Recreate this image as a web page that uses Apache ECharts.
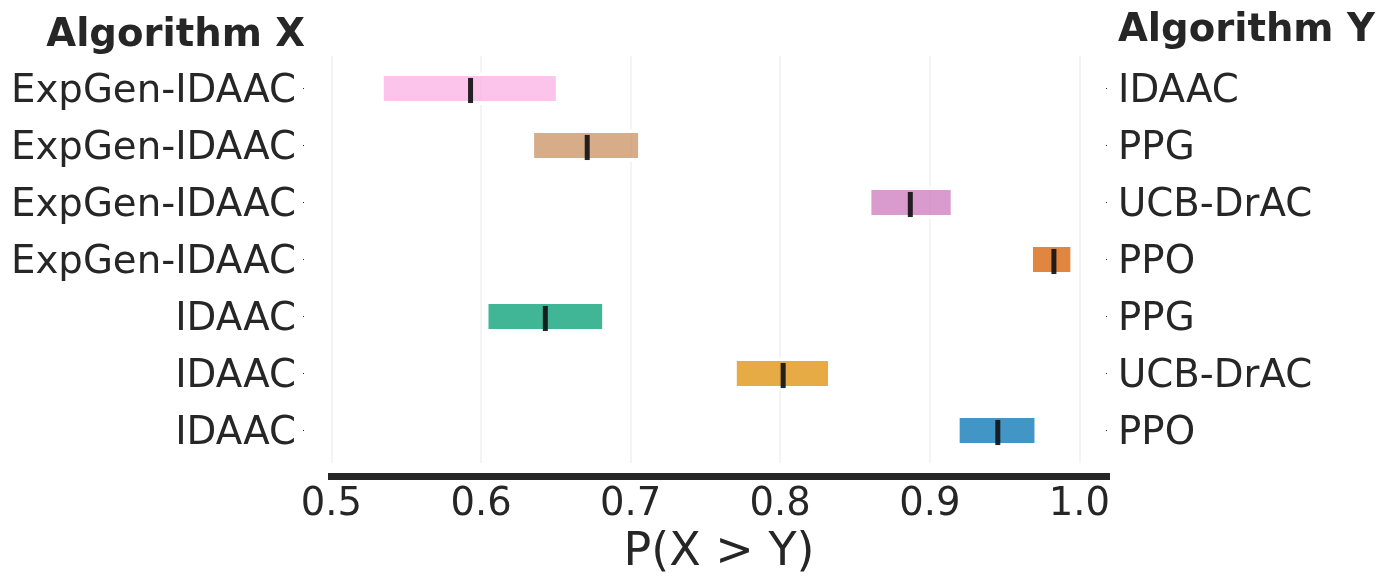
<!DOCTYPE html>
<html>
<head>
<meta charset="utf-8">
<script src="https://cdn.jsdelivr.net/npm/echarts@6/dist/echarts.min.js"></script>
<style>
  html, body { margin: 0; padding: 0; background: #fff; }
  #chart { width: 1389px; height: 582px; }
</style>
</head>
<body>
<div id="chart"></div>
<script>
// pairs compared, top to bottom
const algoX = ['ExpGen-IDAAC', 'ExpGen-IDAAC', 'ExpGen-IDAAC', 'ExpGen-IDAAC', 'IDAAC', 'IDAAC', 'IDAAC'];
const algoY = ['IDAAC', 'PPG', 'UCB-DrAC', 'PPO', 'PPG', 'UCB-DrAC', 'PPO'];

// P(X > Y): interval low / high and point estimate
const lowVals = [0.535, 0.6355, 0.861, 0.969, 0.605, 0.771, 0.920];
const highVals = [0.650, 0.705, 0.914, 0.994, 0.681, 0.832, 0.970];
const medianVals = [0.593, 0.671, 0.887, 0.983, 0.643, 0.802, 0.9455];

const xTicks = [0.5, 0.6, 0.7, 0.8, 0.9, 1.0];

// seaborn colorblind, drawn with alpha .75
const barColors = ['#fbafe4', '#ca9161', '#cc78bc', '#d55e00', '#029e73', '#de8f05', '#0173b2'];

const textColor = '#262626';
const fontFam = 'DejaVu Sans';

let rows = lowVals.map((lo, i) => [i, lo, highVals[i], medianVals[i]]);
let rowIdx = algoX.map((n, i) => i);

// row labels pushed down a few px so they sit on the bar centre
const rowLabelRich = {
  a: { fontSize: 38.7, color: textColor, fontFamily: fontFam, padding: [6, 0, 0, 0] }
};

function renderItem(params, api) {
  let row = api.value(0);
  let start = api.coord([api.value(1), row]);
  let end = api.coord([api.value(2), row]);
  let mid = api.coord([api.value(3), row]);
  let h = api.size([0, 1])[1] * 0.44;
  let top = start[1] - h / 2;
  let w = end[0] - start[0];
  return {
    type: 'group',
    children: [
      // white halo above / below the bar
      { type: 'rect', shape: { x: start[0], y: top - 3.5, width: w, height: 3.5 }, style: { fill: '#fff' } },
      { type: 'rect', shape: { x: start[0], y: top + h, width: w, height: 4 }, style: { fill: '#fff' } },
      { type: 'rect', shape: { x: start[0], y: top, width: w, height: h }, style: { fill: barColors[row], opacity: 0.75 } },
      { type: 'rect', shape: { x: mid[0] - 2.5, y: top + 2, width: 5, height: h }, style: { fill: 'rgba(20,18,20,0.92)' } }
    ]
  };
}

let myChart = echarts.init(document.getElementById('chart'));
let option = {
  animation: false,
  backgroundColor: '#fff',
  textStyle: { fontFamily: fontFam },
  grid: {
    left: 328,
    right: 279,
    top: 56,
    bottom: 119
  },
  xAxis: {
    type: 'value',
    min: 0.4977,
    max: 1.0205,
    offset: 13.5,
    name: 'P(X > Y)',
    nameLocation: 'middle',
    nameGap: 54,
    nameTextStyle: { fontSize: 46, color: textColor, fontFamily: fontFam },
    axisLine: { show: true, onZero: false, lineStyle: { color: textColor, width: 7, cap: 'butt' } },
    axisTick: { show: false, customValues: xTicks },
    axisLabel: {
      customValues: xTicks,
      margin: 8.5,
      fontSize: 38.5,
      color: textColor,
      fontFamily: fontFam,
      formatter: v => v.toFixed(1)
    },
    splitLine: { show: true, lineStyle: { color: '#f0f0f0', width: 1.5 } }
  },
  yAxis: [
    {
      type: 'value',
      inverse: true,
      min: -0.57,
      max: 6.57,
      position: 'left',
      offset: 24,
      axisLine: { show: false },
      axisTick: { show: true, length: 1, customValues: rowIdx, lineStyle: { color: textColor, width: 1 } },
      axisLabel: {
        customValues: rowIdx,
        margin: 8,
        fontSize: 38.7,
        color: textColor,
        fontFamily: fontFam,
        rich: rowLabelRich,
        formatter: v => '{a|' + algoX[Math.round(v)] + '}'
      },
      splitLine: { show: false }
    },
    {
      type: 'value',
      inverse: true,
      min: -0.57,
      max: 6.57,
      position: 'right',
      offset: -4,
      axisLine: { show: false },
      axisTick: { show: true, length: 1, customValues: rowIdx, lineStyle: { color: textColor, width: 1 } },
      axisLabel: {
        customValues: rowIdx,
        margin: 12,
        fontSize: 38.7,
        color: textColor,
        fontFamily: fontFam,
        rich: rowLabelRich,
        formatter: v => '{a|' + algoY[Math.round(v)] + '}'
      },
      splitLine: { show: false }
    }
  ],
  graphic: [
    {
      type: 'text',
      x: 305,
      y: 36,
      style: {
        text: 'Algorithm X',
        font: 'bold 38.6px "DejaVu Sans"',
        fill: textColor,
        textAlign: 'right',
        textVerticalAlign: 'middle'
      }
    },
    {
      type: 'text',
      x: 1118,
      y: 31,
      style: {
        text: 'Algorithm Y',
        font: 'bold 38.6px "DejaVu Sans"',
        fill: textColor,
        textAlign: 'left',
        textVerticalAlign: 'middle'
      }
    }
  ],
  series: [
    {
      type: 'custom',
      renderItem: renderItem,
      encode: { x: [1, 2, 3], y: 0 },
      data: rows
    }
  ]
};

myChart.setOption(option, true);
window.addEventListener('resize', () => {
  myChart.resize();
});
</script>
</body>
</html>
